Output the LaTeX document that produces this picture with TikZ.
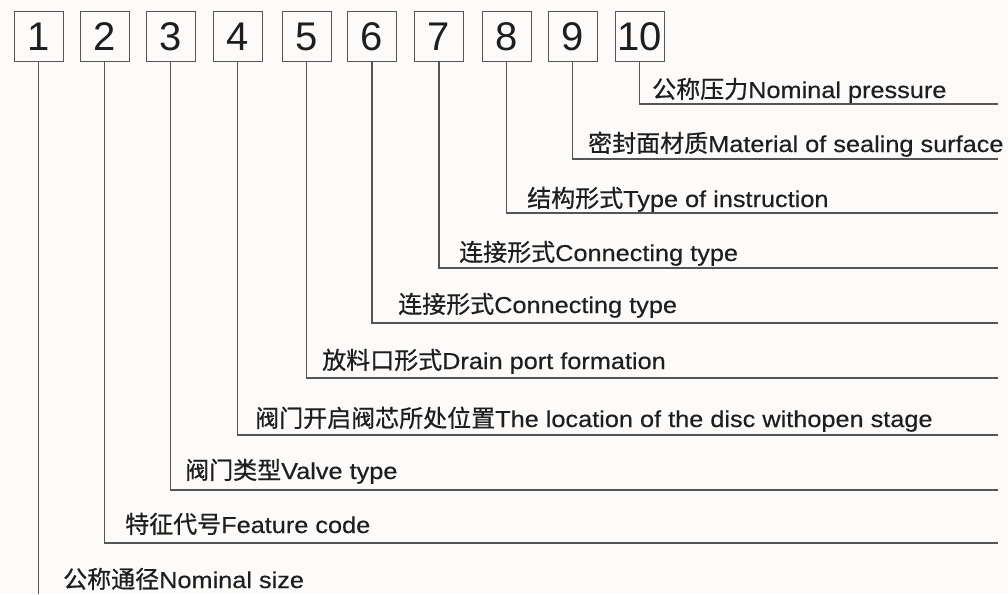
\documentclass[tikz,border=0pt]{standalone}
\usepackage{fontspec}
\setmainfont{Liberation Sans}[FakeStretch=1.1,FakeBold=0.4]
\newfontfamily\cjkfont{Noto Sans CJK SC}[FakeBold=0.6]
\newcommand{\cjk}[1]{{\cjkfont\fontsize{24}{26}\selectfont #1}}
\newfontfamily\digitfont{Liberation Sans}
\definecolor{bg}{RGB}{253,251,250}
\definecolor{ln}{RGB}{85,85,85}
\definecolor{tx}{RGB}{30,30,30}
\begin{document}
\begin{tikzpicture}[x=1pt,y=-1pt,
  numbox/.style={draw=ln,line width=1pt,minimum width=49pt,minimum height=49pt,inner sep=0pt,
    font=\digitfont\fontsize{40}{40}\selectfont,text=tx},
  lbl/.style={anchor=base west,inner sep=0pt,text=tx,font=\fontsize{23}{26}\selectfont},
  conn/.style={draw=ln,line width=1.2pt}]
\fill[bg] (0,0) rectangle (1008,594);
\useasboundingbox (0,0) rectangle (1008,594);
% number boxes
\node[numbox] (b1) at (38.5,36.5) {1};
\node[numbox] (b2) at (104.5,36.5) {2};
\node[numbox] (b3) at (170.5,36.5) {3};
\node[numbox] (b4) at (237.5,36.5) {4};
\node[numbox] (b5) at (306.5,36.5) {5};
\node[numbox] (b6) at (372,36.5) {6};
\node[numbox] (b7) at (439,36.5) {7};
\node[numbox] (b8) at (506.5,36.5) {8};
\node[numbox] (b9) at (572.5,36.5) {9};
\node[numbox] (b10) at (639.5,36.5) {10};
% line ends
\coordinate (e10) at (998,104);
\coordinate (e9) at (998,159);
\coordinate (e8) at (998,213);
\coordinate (e7) at (998,268);
\coordinate (e6) at (998,323);
\coordinate (e5) at (998,378);
\coordinate (e4) at (998,435);
\coordinate (e3) at (998,490);
\coordinate (e2) at (998,543);
\coordinate (e1) at (38.5,594);
% connectors
\foreach \i in {2,...,10} { \draw[conn] (b\i.south) |- (e\i); }
\draw[conn] (b1.south) -- (e1);
% labels
\node[lbl] (t10) at (652,98) {\cjk{公称压力}Nominal pressure};
\node[lbl] (t9) at (588,152) {\cjk{密封面材质}Material of sealing surface};
\node[lbl] (t8) at (527,207) {\cjk{结构形式}Type of instruction};
\node[lbl] (t7) at (459,261) {\cjk{连接形式}Connecting type};
\node[lbl] (t6) at (398,313) {\cjk{连接形式}Connecting type};
\node[lbl] (t5) at (322,369) {\cjk{放料口形式}Drain port formation};
\node[lbl] (t4) at (255,427) {\cjk{阀门开启阀芯所处位置}The location of the disc withopen stage};
\node[lbl] (t3) at (185,479) {\cjk{阀门类型}Valve type};
\node[lbl] (t2) at (125,533) {\cjk{特征代号}Feature code};
\node[lbl] (t1) at (63,588) {\cjk{公称通径}Nominal size};
\end{tikzpicture}
\end{document}
